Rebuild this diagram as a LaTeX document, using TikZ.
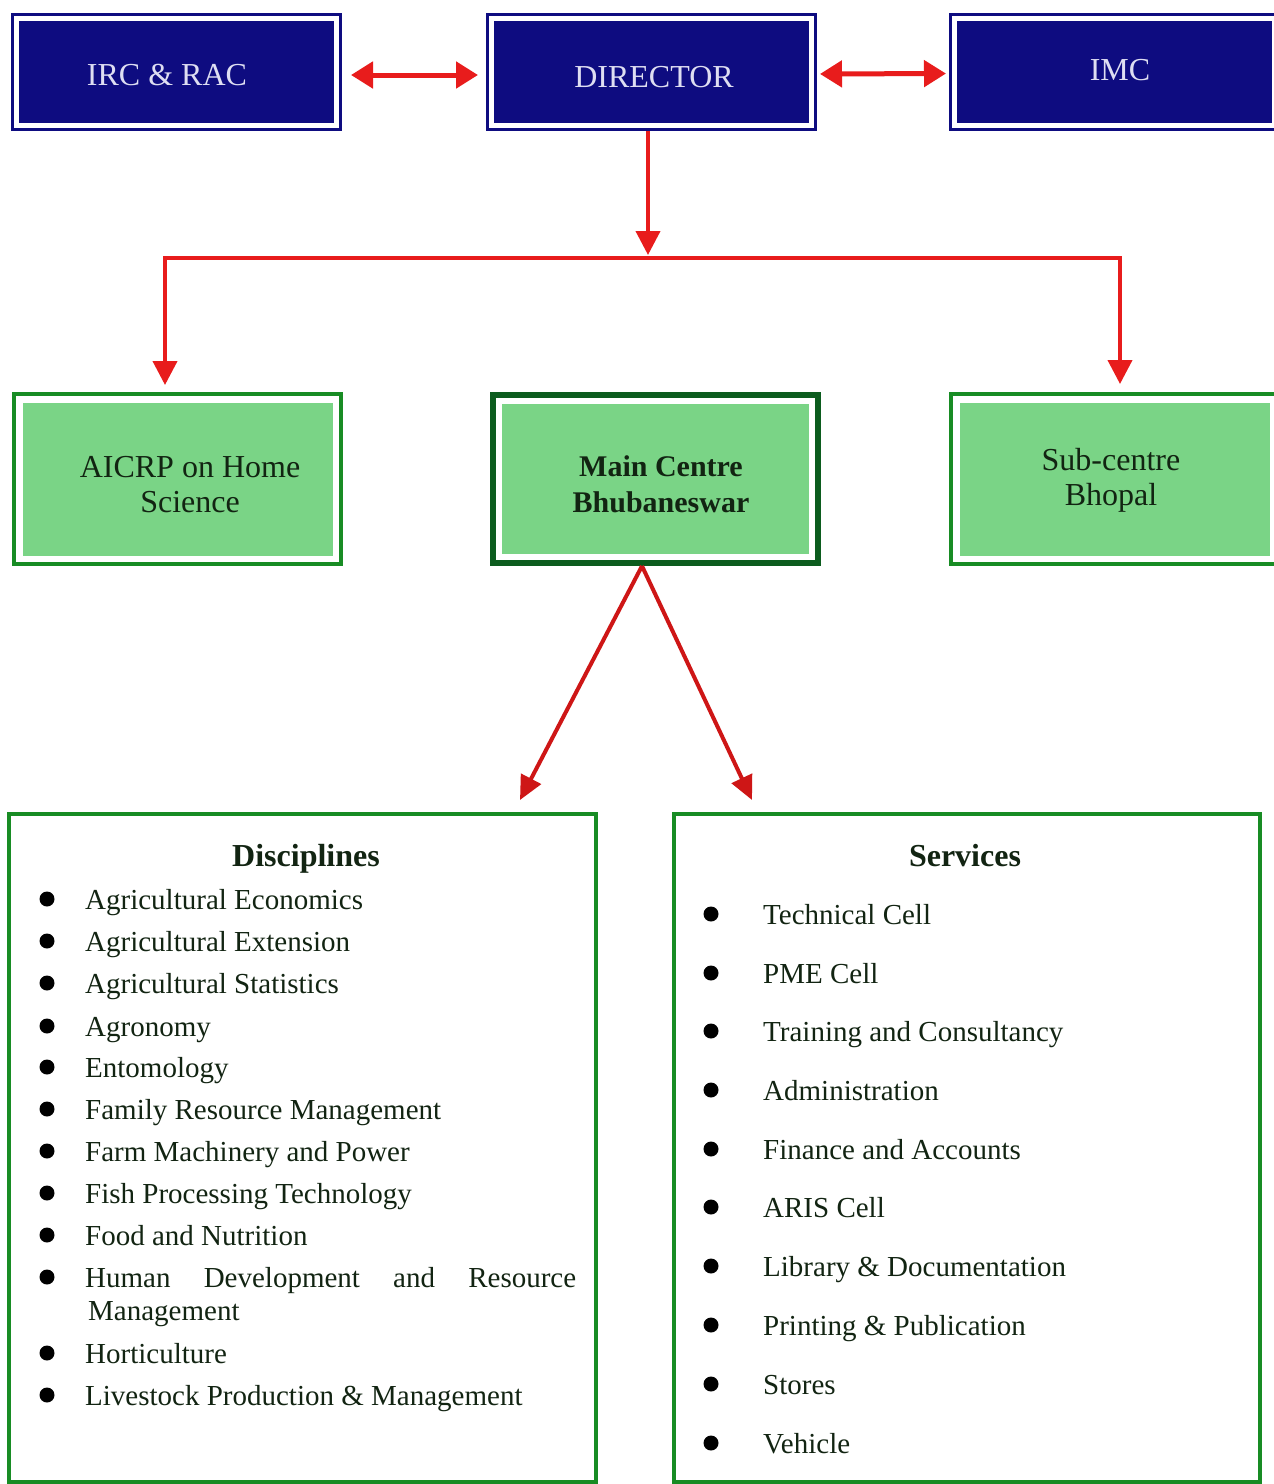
\documentclass[tikz,border=0pt]{standalone}
\usepackage{fontspec}
\setmainfont{Liberation Serif}
\usetikzlibrary{arrows.meta}
\definecolor{navy}{RGB}{14,12,128}
\definecolor{boxtext}{RGB}{222,222,242}
\definecolor{lgreen}{RGB}{122,212,134}
\definecolor{gborder}{RGB}{24,140,36}
\definecolor{dgborder}{RGB}{12,92,30}
\definecolor{arrred}{RGB}{232,28,28}
\definecolor{darred}{RGB}{206,22,22}
\definecolor{txt}{RGB}{18,36,18}
\begin{document}
\begin{tikzpicture}[x=1pt,y=-1pt,
  bluebox/.style={draw=navy, fill=navy, line width=3pt, double=white, double distance=5pt,
    minimum width=320pt, minimum height=107pt, inner sep=0pt, outer sep=0pt},
  insetfill/.style={path picture={\fill[lgreen] ([shift={(#1,-#1)}]path picture bounding box.north west)
    rectangle ([shift={(-#1,#1)}]path picture bounding box.south east);}},
  greenbox/.style={draw=gborder, fill=white, line width=4pt, insetfill=8.5pt,
    minimum width=327pt, minimum height=170pt, inner sep=0pt, outer sep=0pt},
  mainbox/.style={draw=dgborder, fill=white, line width=6pt, insetfill=9pt,
    minimum width=325pt, minimum height=168pt, inner sep=0pt, outer sep=0pt},
  listbox/.style={draw=gborder, fill=white, line width=4pt, minimum height=668pt, inner sep=0pt, outer sep=0pt},
  toptext/.style={text=boxtext, font=\fontsize{32}{36}\selectfont, inner sep=0pt},
  grtext/.style={text=txt, font=\fontsize{32}{35}\selectfont, align=center, inner sep=0pt},
  headtext/.style={text=txt, font=\bfseries\fontsize{32}{36}\selectfont, inner sep=0pt, anchor=base},
  itemtext/.style={text=txt, font=\fontsize{29}{33}\selectfont, inner sep=0pt, anchor=base west},
  redline/.style={draw=arrred, line width=5pt},
  darkredline/.style={draw=darred, line width=4pt},
  >={Triangle[length=22pt,width=26pt]}
]
\useasboundingbox (0,0) rectangle (1274,1484);
\fill[white] (0,0) rectangle (1274,1484);

% top boxes
\node[bluebox] (irc) at (176.5,72) {};
\node[bluebox] (dir) at (651.5,72) {};
\node[bluebox, minimum width=320pt] (imc) at (1114.5,71.5) {};
\node[toptext] (irct) at (167,75) {IRC \& RAC};
\node[toptext] (dirt) at (654,77) {DIRECTOR};
\node[toptext] (imct) at (1120,70) {IMC};

% middle boxes
\node[greenbox] (aicrp) at (177.5,479) {};
\node[mainbox] (main) at (655.5,479) {};
\node[greenbox] (sub) at (1114.5,479) {};
\node[grtext] (aicrpt) at (190,485) {AICRP on Home\\Science};
\node[grtext, font=\bfseries\fontsize{30}{36}\selectfont] (maint) at (661,484) {Main Centre\\Bhubaneswar};
\node[grtext] (subt) at (1111,480) {Sub-centre\\Bhopal};

% bottom boxes
\node[listbox, minimum width=587pt] (disc) at (302.5,1148) {};
\node[listbox, minimum width=586pt] (serv) at (967,1148) {};

% top connectors
\draw[redline, <->, shorten <=14.5pt, shorten >=13.5pt] ([yshift=-3pt]irc.east) -- ([yshift=-3pt]dir.west);
\draw[redline, <->, shorten <=8.5pt, shorten >=8.5pt] ([yshift=-2pt]dir.east) -- ([yshift=-2pt]imc.west);

\coordinate (jn) at (648,258);
\coordinate (hl) at (165,258);
\coordinate (hr) at (1120,258);
\draw[redline, line width=4pt, ->, >={Triangle[length=24pt,width=24pt]}, shorten <=5.5pt, shorten >=3pt] (dir.south -| jn) -- (jn);
\draw[redline, line width=4pt] ([xshift=-2pt]hl) -- ([xshift=2pt]hr);
\draw[redline, line width=4pt, ->, >={Triangle[length=24pt,width=24pt]}, shorten >=9pt] (hl) -- (hl |- aicrp.north);
\draw[redline, line width=4pt, ->, >={Triangle[length=24pt,width=24pt]}, shorten >=10pt] (hr) -- (hr |- sub.north);

% main centre connectors
\coordinate (ms) at ([xshift=-13.5pt,yshift=-3pt]main.south);
\coordinate (dtip) at ([xshift=217.5pt,yshift=14pt]disc.north);
\coordinate (stip) at ([xshift=-215pt,yshift=14pt]serv.north);
\draw[darkredline, ->, >={Triangle[length=24pt,width=22pt]}] (ms) -- (dtip);
\draw[darkredline, ->, >={Triangle[length=24pt,width=22pt]}] (ms) -- (stip);

% Disciplines
\node[headtext] (dhead) at (306,866) {Disciplines};
\foreach \yy/\lbl [count=\i] in {909/Agricultural Economics, 951/Agricultural Extension,
  993/Agricultural Statistics, 1036/Agronomy, 1077/Entomology, 1119/Family Resource Management,
  1161/Farm Machinery and Power, 1203/Fish Processing Technology, 1245/Food and Nutrition,
  1363/Horticulture, 1405/Livestock Production \& Management}{
  \fill[black] (47,\yy-10) circle (7.5pt);
  \node[itemtext] (d\i) at (85,\yy) {\lbl};
}
\fill[black] (47,1277) circle (7.5pt);
\node[itemtext] (dh1) at (85,1287) {\makebox[491pt][s]{Human Development and Resource}};
\node[itemtext] (dh2) at (88,1320) {Management};

% Services
\node[headtext] (shead) at (965,866) {Services};
\foreach \yy/\lbl [count=\i] in {924/Technical Cell, 983/PME Cell, 1041/Training and Consultancy,
  1100/Administration, 1159/Finance and Accounts, 1217/ARIS Cell, 1276/Library \& Documentation,
  1335/Printing \& Publication, 1394/Stores, 1453/Vehicle}{
  \fill[black] (711,\yy-10) circle (7.5pt);
  \node[itemtext] (s\i) at (763,\yy) {\lbl};
}
\end{tikzpicture}
\end{document}
